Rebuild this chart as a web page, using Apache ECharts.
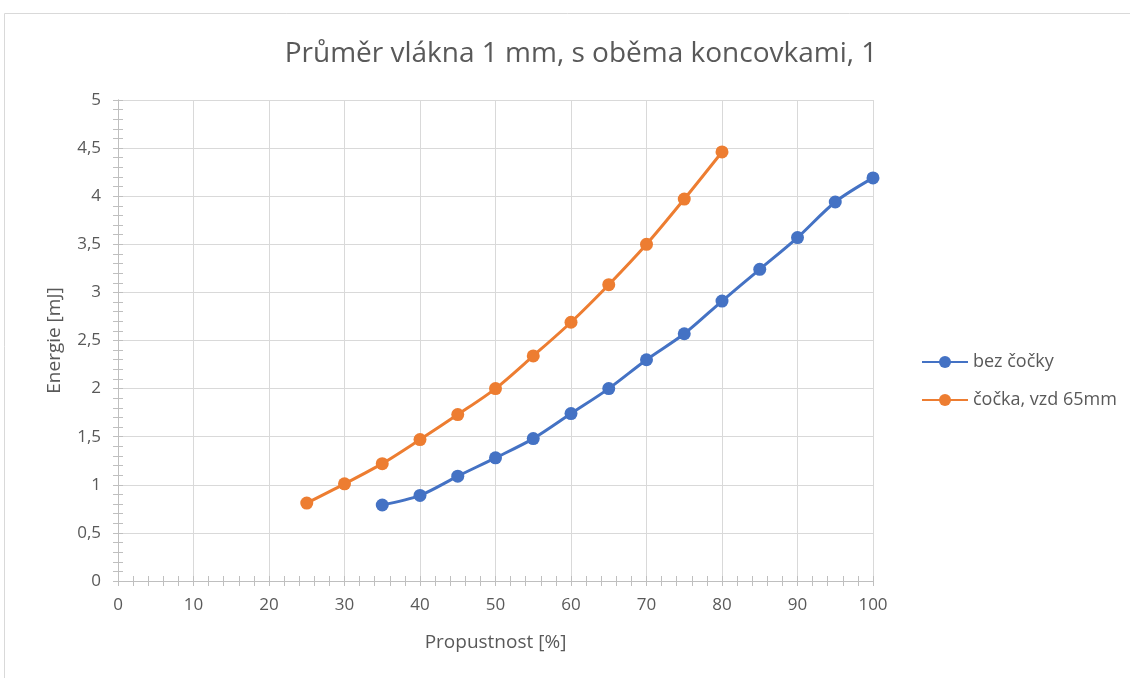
<!DOCTYPE html>
<html>
<head>
<meta charset="utf-8">
<script src="https://cdn.jsdelivr.net/npm/echarts@6/dist/echarts.min.js"></script>
<style>
  html, body { margin: 0; padding: 0; background: #fff; }
  #chart { width: 1130px; height: 678px; }
</style>
</head>
<body>
<div id="chart"></div>
<script>
// data
const xBez = [35, 40, 45, 50, 55, 60, 65, 70, 75, 80, 85, 90, 95, 100];
const yBez = [0.79, 0.89, 1.09, 1.28, 1.48, 1.74, 2.0, 2.3, 2.57, 2.91, 3.24, 3.57, 3.94, 4.19];
const xCocka = [25, 30, 35, 40, 45, 50, 55, 60, 65, 70, 75, 80];
const yCocka = [0.81, 1.01, 1.22, 1.47, 1.73, 2.0, 2.34, 2.69, 3.08, 3.5, 3.97, 4.46];
const seriesNames = ['bez čočky', 'čočka, vzd 65mm'];

const font = '"Open Sans", "Noto Sans", sans-serif';
const txt = '#595959';
const axisCol = '#bfbfbf';

let chart = echarts.init(document.getElementById('chart'));

function pairs(xs, ys) {
    return xs.map((x, i) => [x, ys[i]]);
}

const xBase = {
    type: 'value', min: 0, max: 100, interval: 10,
    axisLine: { show: true, onZero: false, lineStyle: { color: axisCol, width: 1 } },
    minorTick: { show: true, splitNumber: 5, length: 5, lineStyle: { color: axisCol } }
};
const yBase = {
    type: 'value', min: 0, max: 5, interval: 0.5,
    axisLine: { show: true, onZero: false, lineStyle: { color: axisCol, width: 1 } },
    minorTick: { show: true, splitNumber: 5, length: 5, lineStyle: { color: axisCol } }
};

const option = {
    animation: false,
    textStyle: { fontFamily: font },
    title: {
        text: 'Průměr vlákna 1 mm, s oběma koncovkami, 1',
        left: 576, top: 35, textAlign: 'center',
        textStyle: { fontFamily: font, fontSize: 28, fontWeight: 'normal', color: txt }
    },
    graphic: [{
        type: 'rect', silent: true,
        shape: { x: 4.5, y: 13.5, width: 1200, height: 800 },
        style: { fill: 'none', stroke: '#d9d9d9', lineWidth: 1 }
    }],
    legend: {
        orient: 'vertical', left: 916, top: 348,
        itemWidth: 46, itemHeight: 15, itemGap: 20,
        textStyle: { fontFamily: font, fontSize: 18, color: txt },
        data: seriesNames
    },
    grid: { left: 118, right: 257, top: 100, bottom: 97 },
    xAxis: [
        Object.assign({}, xBase, {
            name: 'Propustnost [%]', nameLocation: 'middle', nameGap: 52,
            nameTextStyle: { fontFamily: font, fontSize: 19, color: txt },
            axisTick: { show: true, length: 5, lineStyle: { color: axisCol } },
            axisLabel: { color: txt, fontSize: 17, margin: 16, fontFamily: font },
            splitLine: { show: true, lineStyle: { color: '#d9d9d9', width: 1 } }
        }),
        Object.assign({}, xBase, {
            position: 'bottom',
            axisTick: { show: true, inside: true, length: 5, lineStyle: { color: axisCol } },
            minorTick: { show: true, splitNumber: 5, length: 5, lineStyle: { color: axisCol } },
            axisLabel: { show: false },
            splitLine: { show: false }
        })
    ],
    yAxis: [
        Object.assign({}, yBase, {
            name: 'Energie [mJ]', nameLocation: 'middle', nameGap: 54,
            nameTextStyle: { fontFamily: font, fontSize: 19, color: txt },
            axisTick: { show: true, length: 5, lineStyle: { color: axisCol } },
            axisLabel: {
                color: txt, fontSize: 17, margin: 17, fontFamily: font,
                formatter: v => String(v).replace('.', ',')
            },
            splitLine: { show: true, lineStyle: { color: '#d9d9d9', width: 1 } }
        }),
        Object.assign({}, yBase, {
            position: 'left',
            axisTick: { show: true, inside: true, length: 5, lineStyle: { color: axisCol } },
            minorTick: { show: true, splitNumber: 5, length: 5, lineStyle: { color: axisCol } },
            axisLabel: { show: false },
            splitLine: { show: false }
        })
    ],
    series: [
        {
            name: seriesNames[0], type: 'line', smooth: 0.3,
            xAxisIndex: 0, yAxisIndex: 0,
            data: pairs(xBez, yBez),
            symbol: 'circle', symbolSize: 13,
            itemStyle: { color: '#4472c4' },
            lineStyle: { color: '#4472c4', width: 3 }
        },
        {
            name: seriesNames[1], type: 'line', smooth: 0.3,
            xAxisIndex: 0, yAxisIndex: 0,
            data: pairs(xCocka, yCocka),
            symbol: 'circle', symbolSize: 13,
            itemStyle: { color: '#ed7d31' },
            lineStyle: { color: '#ed7d31', width: 3 }
        }
    ]
};

chart.setOption(option);

window.addEventListener('resize', function () {
    chart.resize();
});
</script>
</body>
</html>
